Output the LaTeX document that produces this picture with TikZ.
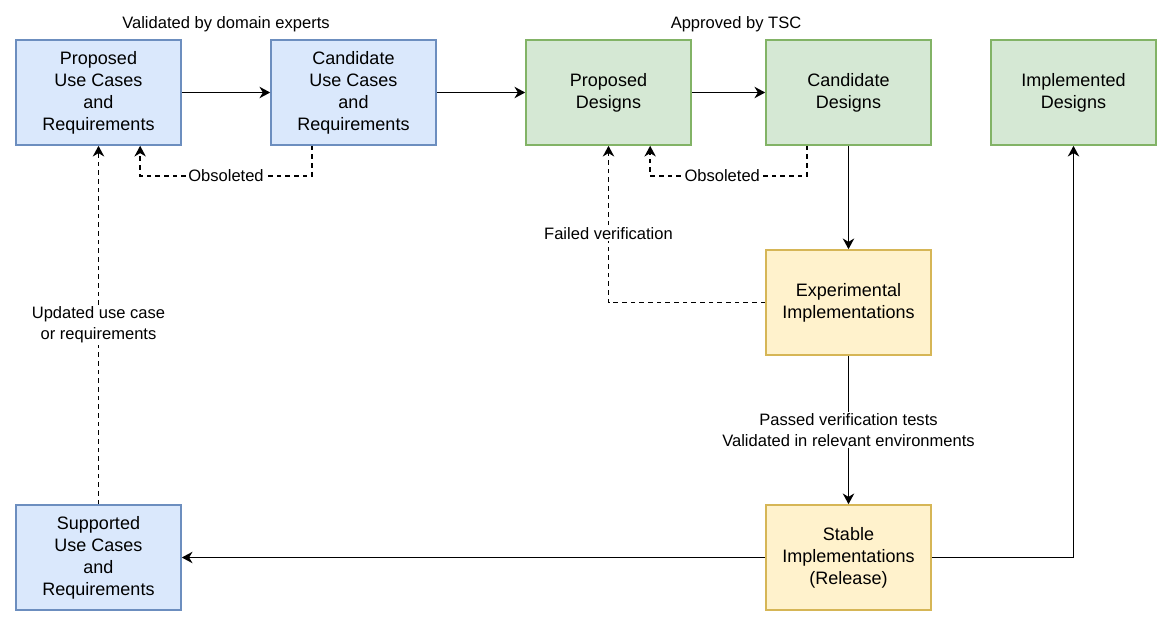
\documentclass[tikz,border=0pt]{standalone}
\usepackage{fontspec}
\setmainfont{Liberation Sans}
\usetikzlibrary{arrows.meta}
\usetikzlibrary{calc}

\begin{document}
\begin{tikzpicture}[x=0.75pt,y=-0.75pt,>={Stealth[length=8pt,width=8.5pt,inset=2.5pt]},line width=1.2pt,
  stage box/.style={draw,minimum width=123.75pt,minimum height=78.75pt,inner sep=2pt,align=center,font=\fontsize{13.5}{16.5}\selectfont},
  use case/.style={stage box,fill=usecasefill,draw=usecaseline},
  design/.style={stage box,fill=designfill,draw=designline},
  implementation/.style={stage box,fill=implfill,draw=implline},
  edge text/.style={fill=white,inner sep=1pt,align=center,font=\fontsize{12.4}{15.75}\selectfont},
  main line/.style={->},
  feedback line/.style={->,dash pattern=on 3.5pt off 3pt}]
 \definecolor{usecasefill}{HTML}{DAE8FC}
 \definecolor{usecaseline}{HTML}{6C8EBF}
 \definecolor{designfill}{HTML}{D5E8D4}
 \definecolor{designline}{HTML}{82B366}
 \definecolor{implfill}{HTML}{FFF2CC}
 \definecolor{implline}{HTML}{D6B656}

 \useasboundingbox (0,0) rectangle (1172,626);

 \node[use case] (puc) at (98.5,92.5) {Proposed\\Use Cases\\and\\Requirements};
 \node[use case] (cuc) at (353.5,92.5) {Candidate\\Use Cases\\and\\Requirements};
 \node[design] (pd) at (608.5,92.5) {Proposed\\Designs};
 \node[design] (cd) at (848.5,92.5) {Candidate\\Designs};
 \node[design] (imd) at (1073.5,92.5) {Implemented\\Designs};
 \node[implementation] (exi) at (848.5,302.5) {Experimental\\Implementations};
 \node[implementation] (sti) at (848.5,557.5) {Stable\\Implementations\\(Release)};
 \node[use case] (suc) at (98.5,557.5) {Supported\\Use Cases\\and\\Requirements};

 \node[edge text] (experts) at (226,24) {Validated by domain experts};
 \node[edge text] (tsc) at (736,24) {Approved by TSC};

 \draw[main line] (puc) -- (cuc);
 \draw[main line] (cuc) -- (pd);
 \draw[main line] (pd) -- (cd);
 \draw[main line] (cd) -- (exi);
 \draw[main line] (exi) -- node[edge text] {Passed verification tests\\Validated in relevant environments} (sti);
 \draw[main line] (sti) -- (suc);
 \draw[main line] (sti) -| (imd);

 \draw[feedback line] (suc) -- node[edge text] {Updated use case\\or requirements} (puc);
 \draw[feedback line] (exi) -| node[edge text,pos=0.72] {Failed verification} (pd);
 \draw[feedback line] ($(cuc.south)!.5!(cuc.south west)$) -- ++(0,30)
    -| node[edge text,pos=0.25] {Obsoleted} ($(puc.south)!.5!(puc.south east)$);
 \draw[feedback line] ($(cd.south)!.5!(cd.south west)$) -- ++(0,30)
    -| node[edge text,pos=0.27] {Obsoleted} ($(pd.south)!.5!(pd.south east)$);
\end{tikzpicture}
\end{document}
